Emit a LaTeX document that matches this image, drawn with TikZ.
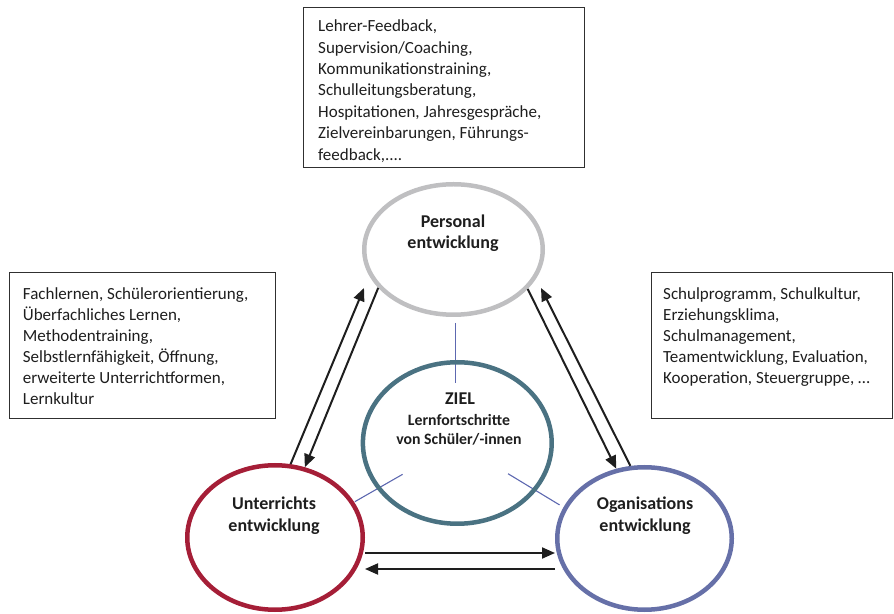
\documentclass[tikz,border=0pt]{standalone}
\usepackage{fontspec}
\setmainfont{Carlito}
\usetikzlibrary{arrows.meta,shapes.geometric,calc,backgrounds}

\definecolor{ink}{HTML}{1E1E1E}
\definecolor{boxline}{HTML}{303030}
\definecolor{persgray}{HTML}{BFBFC1}
\definecolor{zielteal}{HTML}{4A7282}
\definecolor{untred}{HTML}{A51E37}
\definecolor{orgblue}{HTML}{6670A8}
\definecolor{linkblue}{HTML}{5D68B0}

\begin{document}
\begin{tikzpicture}[x=1pt,y=1pt,
  ring/.style={ellipse, draw, line width=4.5pt, inner sep=0pt},
  infobox/.style={rectangle, draw=boxline, line width=1.3pt, inner sep=0pt},
  infotext/.style={anchor=north west, align=left, inner sep=0pt, text=ink,
    font=\fontsize{17}{21.2}\selectfont},
  ringlabel/.style={align=center, inner sep=0pt, text=ink,
    font=\bfseries\fontsize{18}{21.5}\selectfont},
  flow/.style={draw=ink, line width=2pt, -{Triangle[length=13pt,width=11pt]}},
  link/.style={draw=linkblue, line width=1.1pt}]

\useasboundingbox (0,0) rectangle (894,613);

% the four development areas
\node[ring, draw=persgray, minimum width=178.5pt, minimum height=130.5pt] (pers) at (453.5,363.5) {};
\node[ring, draw=zielteal, minimum width=188.8pt, minimum height=161.5pt] (ziel) at (457.3,170) {};
\node[ring, draw=untred, minimum width=175.5pt, minimum height=144.5pt] (unt) at (275,75.5) {};
\node[ring, draw=orgblue, minimum width=174.5pt, minimum height=142.5pt] (org) at (644.5,74.5) {};

% labels inside the rings
\node[ringlabel] (perslabel) at (453,379.6) {Personal\\entwicklung};
\node[ringlabel] (untlabel) at (274,97.3) {Unterrichts\\entwicklung};
\node[ringlabel] (orglabel) at (645,97.3) {Oganisations\\entwicklung};
\node[ringlabel, anchor=base] (ziellabel) at (460,208) {ZIEL};
\node[ringlabel, anchor=base, font=\bfseries\fontsize{15.8}{19}\selectfont] (zielsub1) at (459,187) {Lernfortschritte};
\node[ringlabel, anchor=base, font=\bfseries\fontsize{15.8}{19}\selectfont] (zielsub2) at (459,168) {von Schüler/-innen};

% measure boxes
\node[infobox, minimum width=281pt, minimum height=160pt] (topbox) at (444,525.5) {};
\node[infobox, minimum width=266pt, minimum height=146pt] (leftbox) at (142.5,267.5) {};
\node[infobox, minimum width=241pt, minimum height=146pt] (rightbox) at (772,267.5) {};

\node[infotext, font=\fontsize{17}{21.4}\selectfont] (toptext) at (318,593.2)
  {Lehrer-Feedback,\\Supervision/Coaching,\\Kommunikationstraining,\\Schulleitungsberatung,\\Hospitationen, Jahresgespräche,\\Zielvereinbarungen, Führungs-\\feedback,....};
\node[infotext, font=\fontsize{17}{20.9}\selectfont] (lefttext) at (22.7,325.2)
  {Fachlernen, Schülerorientierung,\\Überfachliches Lernen,\\Methodentraining,\\Selbstlernfähigkeit, Öffnung,\\erweiterte Unterrichtformen,\\Lernkultur};
\node[infotext, font=\fontsize{17}{20.9}\selectfont] (righttext) at (663,325.2)
  {Schulprogramm, Schulkultur,\\Erziehungsklima,\\Schulmanagement,\\Teamentwicklung, Evaluation,\\Kooperation, Steuergruppe, …};

% thin spokes from the goal towards the three areas
\begin{scope}[on background layer]
  \draw[link] ([xshift=2.2pt,yshift=-6pt]pers.south) -- ++(0,-60);
  \draw[link] ($(ziel.center)+(209.8:63)$) -- ($(ziel.center)+(209.8:118)$);
  \draw[link] ($(ziel.center)+(-31.2:59.3)$) -- ($(ziel.center)+(-31.2:119.5)$);
\end{scope}

% exchange arrows between the areas
\coordinate (lefttip) at (364,325);
\coordinate (righttip) at (541,325);
\draw[flow] (pers.207.02) -- (unt.67.13);
\draw[flow] (unt.78.62) -- (lefttip);
\draw[flow] (pers.332.03) -- (org.112.01);
\draw[flow] (org.101.75) -- (righttip);

\coordinate (upperstart) at ($(unt.east)+(0,-15.5)$);
\coordinate (lowerstart) at ($(org.west)+(0,-30.5)$);
\draw[flow] (upperstart) -- (upperstart -| org.west);
\draw[flow] (lowerstart) -- (lowerstart -| unt.east);

\end{tikzpicture}
\end{document}
